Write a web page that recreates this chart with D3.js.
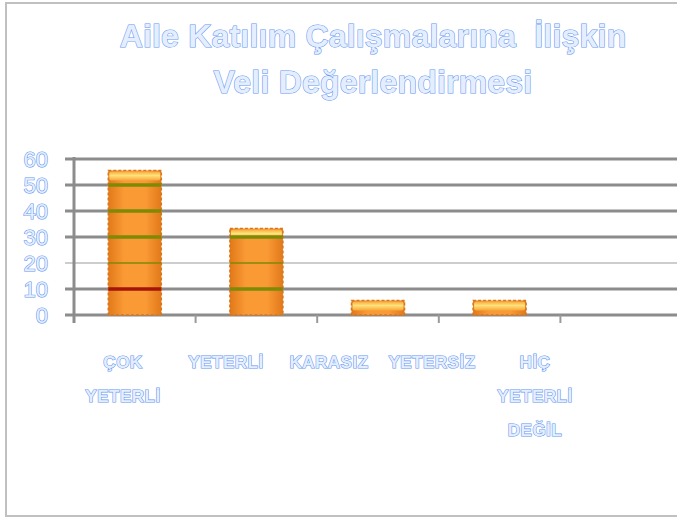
<!DOCTYPE html>
<html>
<head>
<meta charset="utf-8">
<script src="https://cdn.jsdelivr.net/npm/d3@7"></script>
<style>
  body { margin: 0; background: #fff; }
  .ghost { fill: #e4eeff; stroke: #5f95f0; stroke-width: 1.1; paint-order: stroke; font-family: "Liberation Sans", Arial, sans-serif; font-weight: bold; white-space: pre; }
</style>
</head>
<body>
<div id="chart"></div>
<script>
// data
var categories = ["ÇOK YETERLİ", "YETERLİ", "KARASIZ", "YETERSİZ", "HİÇ YETERLİ DEĞİL"];
var labelLines = [["ÇOK", "YETERLİ"], ["YETERLİ"], ["KARASIZ"], ["YETERSİZ"], ["HİÇ", "YETERLİ", "DEĞİL"]];
var values = [55.6, 33.3, 5.6, 5.6, 0];
var yTicks = [0, 10, 20, 30, 40, 50, 60];
var titleLines = ["Aile Katılım Çalışmalarına  İlişkin", "Veli Değerlendirmesi"];

function init(){

  var width = 677, height = 517;

  var svg = d3.select("#chart")
    .append("svg")
    .attr("width", width)
    .attr("height", height);

  // outer frame
  svg.append("rect")
    .attr("x", 6).attr("y", 3)
    .attr("width", 700).attr("height", 513)
    .attr("fill", "none")
    .attr("stroke", "#c0c0c0")
    .attr("stroke-width", 2);

  var defs = svg.append("defs");
  var g1 = defs.append("linearGradient").attr("id", "barGrad")
    .attr("x1", "0%").attr("x2", "100%").attr("y1", "0%").attr("y2", "0%");
  g1.append("stop").attr("offset", "0%").attr("stop-color", "#e2791a");
  g1.append("stop").attr("offset", "30%").attr("stop-color", "#fa9a35");
  g1.append("stop").attr("offset", "70%").attr("stop-color", "#fa9a35");
  g1.append("stop").attr("offset", "100%").attr("stop-color", "#e2791a");
  var g2 = defs.append("linearGradient").attr("id", "capGrad")
    .attr("x1", "0%").attr("x2", "0%").attr("y1", "0%").attr("y2", "100%");
  g2.append("stop").attr("offset", "0%").attr("stop-color", "#f7a83a");
  g2.append("stop").attr("offset", "45%").attr("stop-color", "#ffe27a");
  g2.append("stop").attr("offset", "100%").attr("stop-color", "#f9a53c");

  // scales
  var x = d3.scaleBand()
    .domain(categories)
    .range([74, 682])
    .paddingInner(0.564)
    .paddingOuter(0.282);

  var y = d3.scaleLinear()
    .domain([0, 60])
    .range([315, 159]);

  var labelX = d3.scalePoint()
    .domain(categories)
    .range([123, 535]);

  // gridlines
  svg.append("g")
    .selectAll("line")
    .data(yTicks)
    .enter()
    .append("line")
    .attr("x1", 65).attr("x2", width)
    .attr("y1", function(d){ return y(d); })
    .attr("y2", function(d){ return y(d); })
    .attr("stroke", function(d){ return d == 20 ? "#bdbdbd" : "#8c8c8c"; })
    .attr("stroke-width", function(d){ return d == 20 ? 1.5 : 3; });

  // y axis line and x ticks
  svg.append("line")
    .attr("x1", 74).attr("x2", 74)
    .attr("y1", y(60) - 2).attr("y2", y(0) + 8)
    .attr("stroke", "#8c8c8c").attr("stroke-width", 3);

  var step = x.step();
  svg.append("g")
    .selectAll("line")
    .data(categories)
    .enter()
    .append("line")
    .attr("x1", function(d){ return x(d) - step * x.paddingOuter(); })
    .attr("x2", function(d){ return x(d) - step * x.paddingOuter(); })
    .attr("y1", y(0)).attr("y2", y(0) + 8)
    .attr("stroke", function(d, i){ return i == 0 ? "#8c8c8c" : "#9a9a9a"; })
    .attr("stroke-width", 2);

  // bars
  var bars = svg.append("g")
    .selectAll("g")
    .data(values)
    .enter()
    .append("g")
    .filter(function(d){ return d > 0; });

  bars.append("rect")
    .attr("x", function(d, i){ return x(categories[i]); })
    .attr("y", function(d){ return y(d); })
    .attr("width", x.bandwidth())
    .attr("height", function(d){ return y(0) - y(d); })
    .attr("fill", "url(#barGrad)")
    .attr("stroke", "#d9761a")
    .attr("stroke-width", 1.5)
    .attr("stroke-dasharray", "3,2");

  bars.append("rect")
    .attr("x", function(d, i){ return x(categories[i]) + 1; })
    .attr("y", function(d){ return y(d) + 1; })
    .attr("width", x.bandwidth() - 2)
    .attr("height", 9)
    .attr("rx", 2)
    .attr("fill", "url(#capGrad)");

  // gridlines showing through the bars
  bars.each(function(v, i){
    var g = d3.select(this);
    yTicks.filter(function(t){ return t > 0 && t < v - 1; }).forEach(function(t){
      g.append("line")
        .attr("x1", x(categories[i])).attr("x2", x(categories[i]) + x.bandwidth())
        .attr("y1", y(t)).attr("y2", y(t))
        .attr("stroke", (t == 10 && i == 0) ? "#a3140c" : "#7c8a06")
        .attr("stroke-width", t == 20 ? 1.5 : 3.5);
    });
  });

  // y tick labels
  svg.append("g")
    .selectAll("text")
    .data(yTicks)
    .enter()
    .append("text")
    .attr("class", "ghost")
    .attr("x", 48)
    .attr("y", function(d){ return y(d) + 8; })
    .attr("text-anchor", "end")
    .style("font-size", "22px")
    .style("font-weight", "normal")
    .text(function(d){ return d; });

  // category labels
  var cl = svg.append("g")
    .selectAll("text")
    .data(categories)
    .enter()
    .append("text")
    .attr("class", "ghost")
    .attr("text-anchor", "middle")
    .style("font-size", "17px")
    .style("letter-spacing", "0.5px");

  cl.selectAll("tspan")
    .data(function(d, i){ return labelLines[i].map(function(s){ return {s: s, c: d}; }); })
    .enter()
    .append("tspan")
    .attr("x", function(d){ return labelX(d.c); })
    .attr("y", function(d, j){ return 368 + j * 34; })
    .text(function(d){ return d.s; });

  // title
  svg.append("g")
    .selectAll("text")
    .data(titleLines)
    .enter()
    .append("text")
    .attr("class", "ghost")
    .attr("x", 373)
    .attr("y", function(d, i){ return 47 + i * 46; })
    .attr("text-anchor", "middle")
    .style("font-size", "32px")
    .style("letter-spacing", "0.2px")
    .text(function(d){ return d; });
}
window.onload = init;
</script>
</body>
</html>
